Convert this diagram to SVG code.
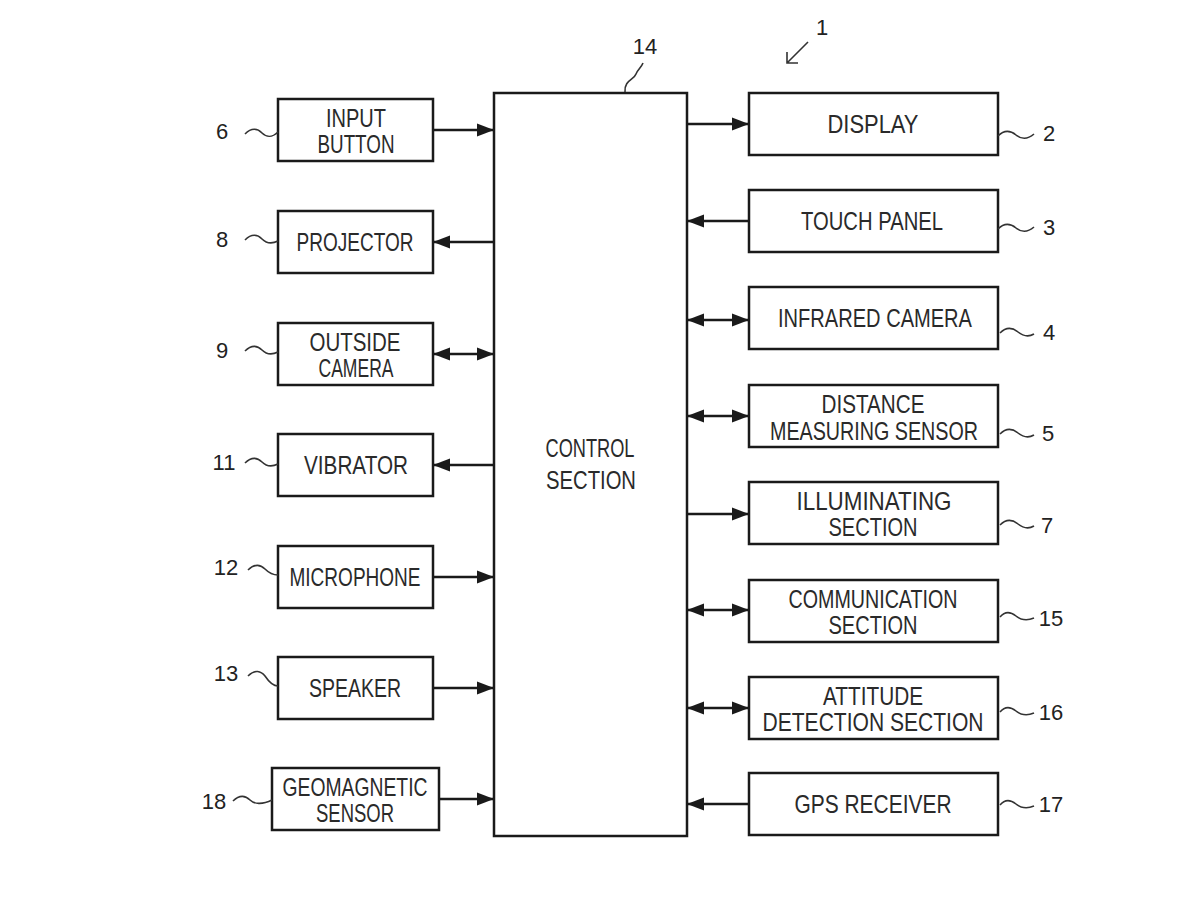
<svg xmlns="http://www.w3.org/2000/svg" width="1200" height="900" viewBox="0 0 1200 900">
<defs>
<marker id="ah" markerUnits="userSpaceOnUse" markerWidth="17" markerHeight="14" refX="17" refY="7" orient="auto-start-reverse">
<path d="M0,0.5 L17,7 L0,13.5 z" fill="#1a1a1a"/>
</marker>
</defs>
<style>
.box{fill:#fff;stroke:#1a1a1a;stroke-width:2.5}
.t{font-family:"Liberation Sans",Arial,sans-serif;font-size:25px;fill:#2a2a2a;text-anchor:middle}
.n{font-family:"Liberation Sans",Arial,sans-serif;font-size:22px;fill:#222}
.ln{fill:none;stroke:#1a1a1a;stroke-width:2.5}
.w{fill:none;stroke:#333;stroke-width:1.6}
.a{marker-end:url(#ah)}
.b{marker-start:url(#ah);marker-end:url(#ah)}
</style>
<rect width="1200" height="900" fill="#fff"/>

<g id="connectors">
<line class="ln a" x1="433" y1="130" x2="494" y2="130"/>
<line class="ln a" x1="494" y1="242" x2="433" y2="242"/>
<line class="ln b" x1="433" y1="354" x2="494" y2="354"/>
<line class="ln a" x1="494" y1="465" x2="433" y2="465"/>
<line class="ln a" x1="433" y1="577" x2="494" y2="577"/>
<line class="ln a" x1="433" y1="688" x2="494" y2="688"/>
<line class="ln a" x1="439" y1="799" x2="494" y2="799"/>
<line class="ln a" x1="687" y1="124" x2="749" y2="124"/>
<line class="ln a" x1="749" y1="221" x2="687" y2="221"/>
<line class="ln b" x1="687" y1="320" x2="749" y2="320"/>
<line class="ln b" x1="687" y1="416" x2="749" y2="416"/>
<line class="ln a" x1="687" y1="514" x2="749" y2="514"/>
<line class="ln b" x1="687" y1="610" x2="749" y2="610"/>
<line class="ln b" x1="687" y1="708" x2="749" y2="708"/>
<line class="ln a" x1="749" y1="804" x2="687" y2="804"/>
</g>

<g id="control">
<rect class="box" x="494" y="93" width="193" height="743"/>
<text class="t" x="590" y="457" textLength="89" lengthAdjust="spacingAndGlyphs">CONTROL</text>
<text class="t" x="591" y="489" textLength="90" lengthAdjust="spacingAndGlyphs">SECTION</text>
<path class="w" d="M625,92 C624,80 634,80 636,74 C638,69 641,68 643,63"/>
<text class="n" x="645" y="54" text-anchor="middle">14</text>
</g>

<g id="ref1">
<text class="n" x="822" y="35" text-anchor="middle">1</text>
<path class="w" d="M808,42 L787,63 M787,52 L787,63 L798,63"/>
</g>

<g id="n6">
<rect class="box" x="278" y="99" width="155" height="62"/>
<text class="t" x="356" y="127" textLength="60" lengthAdjust="spacingAndGlyphs">INPUT</text>
<text class="t" x="356" y="153" textLength="77" lengthAdjust="spacingAndGlyphs">BUTTON</text>
<path class="w" d="M245,134 C252,127 258,129 262,133 C266,137 272,138 278,132"/>
<text class="n" x="222" y="139" text-anchor="middle">6</text>
</g>
<g id="n8">
<rect class="box" x="278" y="211" width="155" height="62"/>
<text class="t" x="355" y="251" textLength="117" lengthAdjust="spacingAndGlyphs">PROJECTOR</text>
<path class="w" d="M245,240 C252,233 258,235 262,239 C266,243 272,244 278,241"/>
<text class="n" x="222" y="247" text-anchor="middle">8</text>
</g>
<g id="n9">
<rect class="box" x="278" y="323" width="155" height="62"/>
<text class="t" x="355" y="351" textLength="91" lengthAdjust="spacingAndGlyphs">OUTSIDE</text>
<text class="t" x="356" y="377" textLength="75" lengthAdjust="spacingAndGlyphs">CAMERA</text>
<path class="w" d="M245,351 C252,344 258,346 262,350 C266,354 272,355 278,352"/>
<text class="n" x="222" y="358" text-anchor="middle">9</text>
</g>
<g id="n11">
<rect class="box" x="278" y="434" width="155" height="62"/>
<text class="t" x="356" y="474" textLength="104" lengthAdjust="spacingAndGlyphs">VIBRATOR</text>
<path class="w" d="M245,463 C252,456 258,458 262,462 C266,466 272,467 278,464"/>
<text class="n" x="224" y="470" text-anchor="middle">11</text>
</g>
<g id="n12">
<rect class="box" x="278" y="546" width="155" height="62"/>
<text class="t" x="355" y="586" textLength="131" lengthAdjust="spacingAndGlyphs">MICROPHONE</text>
<path class="w" d="M248,570 C255,563 261,565 265,569 C269,573 273,575 278,575"/>
<text class="n" x="226" y="575" text-anchor="middle">12</text>
</g>
<g id="n13">
<rect class="box" x="278" y="657" width="155" height="62"/>
<text class="t" x="355" y="697" textLength="92" lengthAdjust="spacingAndGlyphs">SPEAKER</text>
<path class="w" d="M248,676 C255,669 261,671 265,676 C269,682 273,686 278,686"/>
<text class="n" x="226" y="681" text-anchor="middle">13</text>
</g>
<g id="n18">
<rect class="box" x="272" y="768" width="167" height="62"/>
<text class="t" x="355" y="796" textLength="145" lengthAdjust="spacingAndGlyphs">GEOMAGNETIC</text>
<text class="t" x="355" y="822" textLength="78" lengthAdjust="spacingAndGlyphs">SENSOR</text>
<path class="w" d="M233,801 C240,794 246,796 250,800 C254,804 262,805 272,800"/>
<text class="n" x="214" y="809" text-anchor="middle">18</text>
</g>

<g id="n2">
<rect class="box" x="749" y="93" width="249" height="62"/>
<text class="t" x="873" y="133" textLength="91" lengthAdjust="spacingAndGlyphs">DISPLAY</text>
<path class="w" d="M998,136 C1005,129 1011,131 1016,135 C1021,139 1027,140 1034,134"/>
<text class="n" x="1049" y="141" text-anchor="middle">2</text>
</g>
<g id="n3">
<rect class="box" x="749" y="190" width="249" height="62"/>
<text class="t" x="872" y="230" textLength="142" lengthAdjust="spacingAndGlyphs">TOUCH PANEL</text>
<path class="w" d="M998,229 C1005,222 1011,224 1016,228 C1021,232 1027,233 1034,227"/>
<text class="n" x="1049" y="235" text-anchor="middle">3</text>
</g>
<g id="n4">
<rect class="box" x="749" y="287" width="249" height="62"/>
<text class="t" x="875" y="327" textLength="194" lengthAdjust="spacingAndGlyphs">INFRARED CAMERA</text>
<path class="w" d="M1000,333 C1007,326 1013,328 1018,332 C1023,336 1029,337 1034,334"/>
<text class="n" x="1049" y="340" text-anchor="middle">4</text>
</g>
<g id="n5">
<rect class="box" x="749" y="385" width="249" height="62"/>
<text class="t" x="873" y="413" textLength="103" lengthAdjust="spacingAndGlyphs">DISTANCE</text>
<text class="t" x="874" y="440" textLength="208" lengthAdjust="spacingAndGlyphs">MEASURING SENSOR</text>
<path class="w" d="M1000,434 C1007,427 1013,429 1018,433 C1023,437 1029,438 1034,435"/>
<text class="n" x="1048" y="441" text-anchor="middle">5</text>
</g>
<g id="n7">
<rect class="box" x="749" y="482" width="249" height="62"/>
<text class="t" x="874" y="510" textLength="155" lengthAdjust="spacingAndGlyphs">ILLUMINATING</text>
<text class="t" x="873" y="536" textLength="89" lengthAdjust="spacingAndGlyphs">SECTION</text>
<path class="w" d="M1000,525 C1007,518 1013,520 1018,524 C1023,528 1029,529 1034,526"/>
<text class="n" x="1047" y="533" text-anchor="middle">7</text>
</g>
<g id="n15">
<rect class="box" x="749" y="580" width="249" height="62"/>
<text class="t" x="873" y="608" textLength="169" lengthAdjust="spacingAndGlyphs">COMMUNICATION</text>
<text class="t" x="873" y="634" textLength="89" lengthAdjust="spacingAndGlyphs">SECTION</text>
<path class="w" d="M1000,617 C1005,611 1011,612 1016,616 C1021,620 1027,621 1034,618"/>
<text class="n" x="1051" y="626" text-anchor="middle">15</text>
</g>
<g id="n16">
<rect class="box" x="749" y="677" width="249" height="62"/>
<text class="t" x="873" y="705" textLength="100" lengthAdjust="spacingAndGlyphs">ATTITUDE</text>
<text class="t" x="873" y="731" textLength="221" lengthAdjust="spacingAndGlyphs">DETECTION SECTION</text>
<path class="w" d="M1000,712 C1005,706 1011,707 1016,711 C1021,715 1027,716 1034,713"/>
<text class="n" x="1051" y="720" text-anchor="middle">16</text>
</g>
<g id="n17">
<rect class="box" x="749" y="773" width="249" height="62"/>
<text class="t" x="873" y="813" textLength="157" lengthAdjust="spacingAndGlyphs">GPS RECEIVER</text>
<path class="w" d="M1000,805 C1005,799 1011,800 1016,804 C1021,808 1027,809 1034,806"/>
<text class="n" x="1051" y="812" text-anchor="middle">17</text>
</g>
</svg>
